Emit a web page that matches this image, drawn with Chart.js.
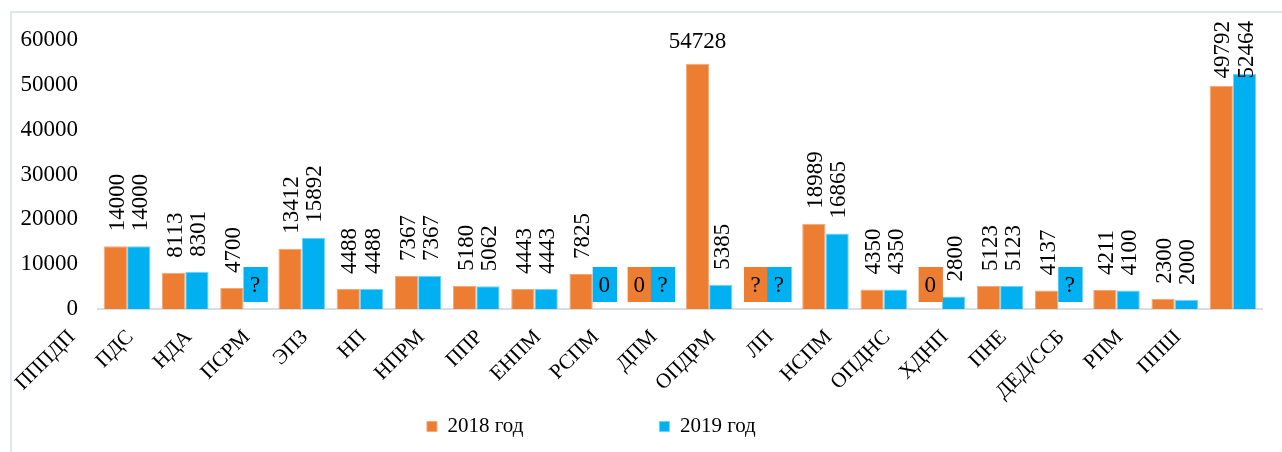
<!DOCTYPE html>
<html>
<head>
<meta charset="utf-8">
<script src="https://cdn.jsdelivr.net/npm/chart.js@4"></script>
<style>
  body { margin: 0; background: #fff; overflow: hidden; }
  #wrap { position: relative; width: 1282px; height: 452px; overflow: hidden; }
  #frame { position: absolute; left: 10px; top: 11px; width: 1400px; height: 600px;
           border-left: 2px solid #e1e5ec; border-top: 2px solid #e1e5ec; }
  canvas { position: absolute; left: 0; top: 0; }
</style>
</head>
<body>
<div id="wrap">
  <div id="frame"></div>
  <canvas id="chart" width="1282" height="452"></canvas>
</div>
<script>
const categories = ['ПППДП', 'ПДС', 'НДА', 'ПСРМ', 'ЭПЗ', 'НП', 'НПРМ', 'ППР', 'ЕНПМ', 'РСПМ',
  'ДПМ', 'ОПДРМ', 'ЛП', 'НСПМ', 'ОПДНС', 'ХДНП', 'ПНЕ', 'ДЕД/ССБ', 'РПМ', 'ППШ'];

// null = shown as "?" in the source
const values2018 = [14000, 8113, 4700, 13412, 4488, 7367, 5180, 4443, 7825, 0,
  54728, null, 18989, 4350, 0, 5123, 4137, 4211, 2300, 49792];
const values2019 = [14000, 8301, null, 15892, 4488, 7367, 5062, 4443, 0, null,
  5385, null, 16865, 4350, 2800, 5123, null, 4100, 2000, 52464];

const yTicks = [0, 10000, 20000, 30000, 40000, 50000, 60000];

const FONT = '"Liberation Serif", "DejaVu Serif", serif';
const ORANGE = '#ED7D31';
const BLUE = '#00B0F0';

// value labels drawn above the bars, rotated like in the original
const valueLabels = {
  id: 'valueLabels',
  afterDatasetsDraw(chart) {
    const ctx = chart.ctx;
    const y0 = chart.scales.y.getPixelForValue(0);
    ctx.save();
    ctx.font = '23px ' + FONT;
    chart.data.datasets.forEach((ds, di) => {
      const meta = chart.getDatasetMeta(di);
      meta.data.forEach((bar, i) => {
        const v = ds.data[i];
        const { x, y, width } = bar.getProps(['x', 'y', 'width'], true);
        if (v === null || v === 0) {
          // boxed label for empty / unknown values
          ctx.fillStyle = ds.backgroundColor;
          ctx.fillRect(x - width / 2, y0 - 42, width + 1, 35);
          ctx.fillStyle = '#000';
          ctx.textAlign = 'center';
          ctx.textBaseline = 'middle';
          ctx.fillText(v === null ? '?' : '0', x, y0 - 23);
          return;
        }
        const text = String(v);
        ctx.fillStyle = '#000';
        if (ds.flat && ds.flat.includes(i)) {
          ctx.textAlign = 'center';
          ctx.textBaseline = 'middle';
          ctx.fillText(text, x, y - 22);
          return;
        }
        const tw = ctx.measureText(text).width;
        const start = Math.max(y - 15, 21 + tw); // keep label inside the frame
        ctx.save();
        ctx.translate(x + 2, start);
        ctx.rotate(-Math.PI / 2);
        ctx.textAlign = 'left';
        ctx.textBaseline = 'middle';
        ctx.fillText(text, 0, 0);
        ctx.restore();
      });
    });
    ctx.restore();
  }
};

new Chart(document.getElementById('chart'), {
  type: 'bar',
  data: {
    labels: categories,
    datasets: [
      { label: '2018 год', data: values2018, backgroundColor: ORANGE, borderColor: '#F3A877', borderWidth: 1, flat: [10] },
      { label: '2019 год', data: values2019, backgroundColor: BLUE, borderColor: '#6FD3F7', borderWidth: 1 }
    ]
  },
  options: {
    responsive: false,
    animation: false,
    devicePixelRatio: 1,
    layout: { padding: { top: 40, left: 10, right: 20, bottom: 5 } },
    datasets: { bar: { categoryPercentage: 0.8, barPercentage: 1.0 } },
    scales: {
      x: {
        grid: { display: false },
        border: { color: '#d9dde3', width: 2 },
        ticks: {
          color: '#000',
          font: { family: FONT, size: 21 },
          minRotation: 45,
          maxRotation: 45,
          labelOffset: -55,
          padding: 8,
          autoSkip: false
        },
        afterFit: s => { s.height = 97; }
      },
      y: {
        min: 0,
        max: 60000,
        afterBuildTicks: s => { s.ticks = yTicks.map(v => ({ value: v })); },
        grid: { display: false, drawTicks: false },
        border: { display: false },
        ticks: {
          color: '#000',
          font: { family: FONT, size: 23 },
          padding: 20,
          callback: v => String(v)
        },
        afterFit: s => { s.width = 88; }
      }
    },
    plugins: {
      tooltip: { enabled: false },
      legend: {
        position: 'bottom',
        labels: {
          boxWidth: 10,
          boxHeight: 10,
          padding: 10,
          color: '#000',
          font: { family: FONT, size: 21 },
          // wide gap between the two legend entries, as in the source
          generateLabels: chart => {
            const items = Chart.defaults.plugins.legend.labels.generateLabels(chart);
            items[0].text += ' '.repeat(24);
            items[1].text += ' '.repeat(17);
            return items;
          }
        }
      }
    }
  },
  plugins: [valueLabels]
});
</script>
</body>
</html>
